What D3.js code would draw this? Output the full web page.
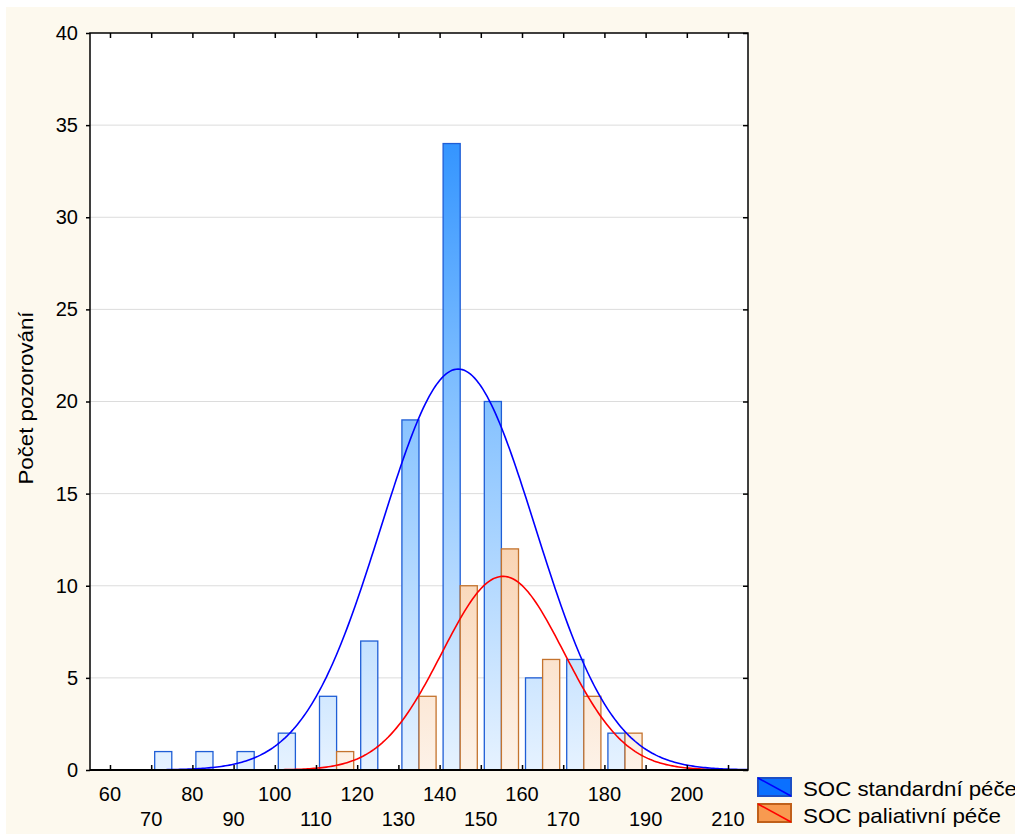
<!DOCTYPE html>
<html><head><meta charset="utf-8">
<script src="https://cdn.jsdelivr.net/npm/d3@7"></script>
<style>html,body{margin:0;padding:0;background:#fff;}svg{display:block;}</style>
</head><body>
<svg id="c" width="1015" height="834"></svg>
<script>
// Data
const binStarts = [70, 80, 90, 100, 110, 120, 130, 140, 150, 160, 170, 180];
const standardCounts = [1, 1, 1, 2, 4, 7, 19, 34, 20, 5, 6, 2];
const paliativeCounts = [0, 0, 0, 0, 1, 0, 4, 10, 12, 6, 4, 2];
const seriesNames = ["SOC standardní péče", "SOC paliativní péče"];
const xTicks = [60, 70, 80, 90, 100, 110, 120, 130, 140, 150, 160, 170, 180, 190, 200, 210];
const yTicks = [0, 5, 10, 15, 20, 25, 30, 35, 40];
// fitted normal curves: [mean, sd, N]
const standardFit = [144.5, 18.7, 102];
const paliativeFit = [155.4, 14.8, 39];
const binWidth = 10;

const svg = d3.select("#c");
const font = "Liberation Sans, Arial, sans-serif";
svg.append("rect").attr("x", 6).attr("y", 7).attr("width", 1009).attr("height", 827).attr("fill", "#fdf9ee");

const L = 90, R = 748, T = 33, B = 770;
const x = d3.scaleLinear().domain([55.15, 214.85]).range([L, R]);
const y = d3.scaleLinear().domain([0, 40]).range([B, T]);

const defs = svg.append("defs");
const gb = defs.append("linearGradient").attr("id", "gb").attr("gradientUnits", "userSpaceOnUse")
  .attr("x1", 0).attr("x2", 0).attr("y1", B).attr("y2", T);
gb.append("stop").attr("offset", 0).attr("stop-color", "#e6f2ff");
gb.append("stop").attr("offset", 0.5).attr("stop-color", "#84c1ff");
gb.append("stop").attr("offset", 1).attr("stop-color", "#1282ff");
const go = defs.append("linearGradient").attr("id", "go").attr("gradientUnits", "userSpaceOnUse")
  .attr("x1", 0).attr("x2", 0).attr("y1", B).attr("y2", T);
go.append("stop").attr("offset", 0).attr("stop-color", "#fdf2e8");
go.append("stop").attr("offset", 0.3).attr("stop-color", "#f9d4b4");
go.append("stop").attr("offset", 1).attr("stop-color", "#f49850");
defs.append("clipPath").attr("id", "clip").append("rect").attr("x", L).attr("y", T).attr("width", R - L).attr("height", B - T);

svg.append("rect").attr("x", L).attr("y", T).attr("width", R - L).attr("height", B - T).attr("fill", "#fff");

// gridlines
svg.append("g").selectAll("line").data(yTicks.slice(1, -1)).join("line")
  .attr("x1", L).attr("x2", R).attr("y1", d => y(d)).attr("y2", d => y(d))
  .attr("stroke", "#dcdcdc").attr("stroke-width", 1);

// bars
const bw = x(binWidth) - x(0);
const pad = bw * 0.085;
const barW = (bw - 2 * pad) / 2;
const bars = svg.append("g");
bars.selectAll("rect.s").data(binStarts.map((b, i) => ({b, v: standardCounts[i]})).filter(d => d.v > 0)).join("rect")
  .attr("x", d => x(d.b) + pad).attr("width", barW)
  .attr("y", d => y(d.v)).attr("height", d => y(0) - y(d.v))
  .attr("fill", "url(#gb)").attr("stroke", "#1f5ed6").attr("stroke-width", 1.3);
bars.selectAll("rect.p").data(binStarts.map((b, i) => ({b, v: paliativeCounts[i]})).filter(d => d.v > 0)).join("rect")
  .attr("x", d => x(d.b) + pad + barW).attr("width", barW)
  .attr("y", d => y(d.v)).attr("height", d => y(0) - y(d.v))
  .attr("fill", "url(#go)").attr("stroke", "#c4732e").attr("stroke-width", 1.3);

// curves
function normalCurve(fit) {
  const [m, s, n] = fit;
  const pts = [];
  for (let v = 55; v <= 215; v += 0.5) {
    pts.push([v, n * binWidth / (s * Math.sqrt(2 * Math.PI)) * Math.exp(-0.5 * ((v - m) / s) ** 2)]);
  }
  return pts;
}
const line = d3.line().x(d => x(d[0])).y(d => y(d[1]));
const cg = svg.append("g").attr("clip-path", "url(#clip)");
cg.append("path").attr("d", line(normalCurve(paliativeFit))).attr("fill", "none").attr("stroke", "#ff0000").attr("stroke-width", 1.6);
cg.append("path").attr("d", line(normalCurve(standardFit))).attr("fill", "none").attr("stroke", "#0000ff").attr("stroke-width", 1.6);

// axes: frame
svg.append("rect").attr("x", L).attr("y", T).attr("width", R - L).attr("height", B - T)
  .attr("fill", "none").attr("stroke", "#000").attr("stroke-width", 1.5);
svg.append("line").attr("x1", L).attr("x2", R).attr("y1", B).attr("y2", B).attr("stroke", "#000").attr("stroke-width", 2);

const axB = d3.axisBottom(x).tickValues(xTicks).tickSize(-5).tickFormat("");
svg.append("g").attr("transform", `translate(0,${B})`).call(axB).call(g => { g.select(".domain").remove(); g.selectAll("line").attr("stroke", "#000").attr("stroke-width", 1.5); });
const axT = d3.axisTop(x).tickValues(xTicks).tickSize(-5).tickFormat("");
svg.append("g").attr("transform", `translate(0,${T})`).call(axT).call(g => { g.select(".domain").remove(); g.selectAll("line").attr("stroke", "#000").attr("stroke-width", 1.5); });
const axR = d3.axisRight(y).tickValues(yTicks).tickSize(-5).tickFormat("");
svg.append("g").attr("transform", `translate(${R},0)`).call(axR).call(g => { g.select(".domain").remove(); g.selectAll("line").attr("stroke", "#000").attr("stroke-width", 1.5); });
const axL = d3.axisLeft(y).tickValues(yTicks).tickSize(4).tickPadding(8);
svg.append("g").attr("transform", `translate(${L},0)`).call(axL).call(g => {
  g.select(".domain").remove();
  g.selectAll("line").attr("stroke", "#000").attr("stroke-width", 1.5);
  g.selectAll("text").attr("font-family", font).attr("font-size", 20).attr("fill", "#000");
});

// x labels, staggered
svg.append("g").selectAll("text").data(xTicks).join("text")
  .attr("x", d => x(d)).attr("y", (d, i) => i % 2 === 0 ? 801 : 826)
  .attr("text-anchor", "middle").attr("font-family", font).attr("font-size", 20).attr("fill", "#000")
  .text(d => d);

// y label
svg.append("text").attr("transform", "translate(33,398) rotate(-90)").attr("text-anchor", "middle")
  .attr("font-family", font).attr("font-size", 20).attr("fill", "#000")
  .attr("textLength", 173).attr("lengthAdjust", "spacingAndGlyphs").text("Počet pozorování");

// legend
const leg = [{fill: "#0a70ff", stroke: "#1c4fc4", diag: "#0000ff", len: 214}, {fill: "#f89a50", stroke: "#c0601a", diag: "#ff0000", len: 198}];
const lg = svg.append("g");
leg.forEach((d, i) => {
  const yy = 778 + i * 26;
  lg.append("rect").attr("x", 758).attr("y", yy).attr("width", 33).attr("height", 18).attr("fill", d.fill).attr("stroke", d.stroke).attr("stroke-width", 2);
  lg.append("line").attr("x1", 758).attr("y1", yy).attr("x2", 791).attr("y2", yy + 18).attr("stroke", d.diag).attr("stroke-width", 1.5);
  lg.append("text").attr("x", 803).attr("y", 796 + i * 26.5).attr("font-family", font).attr("font-size", 21).attr("fill", "#000")
    .attr("textLength", d.len).attr("lengthAdjust", "spacingAndGlyphs").text(seriesNames[i]);
});
</script>
</body></html>
